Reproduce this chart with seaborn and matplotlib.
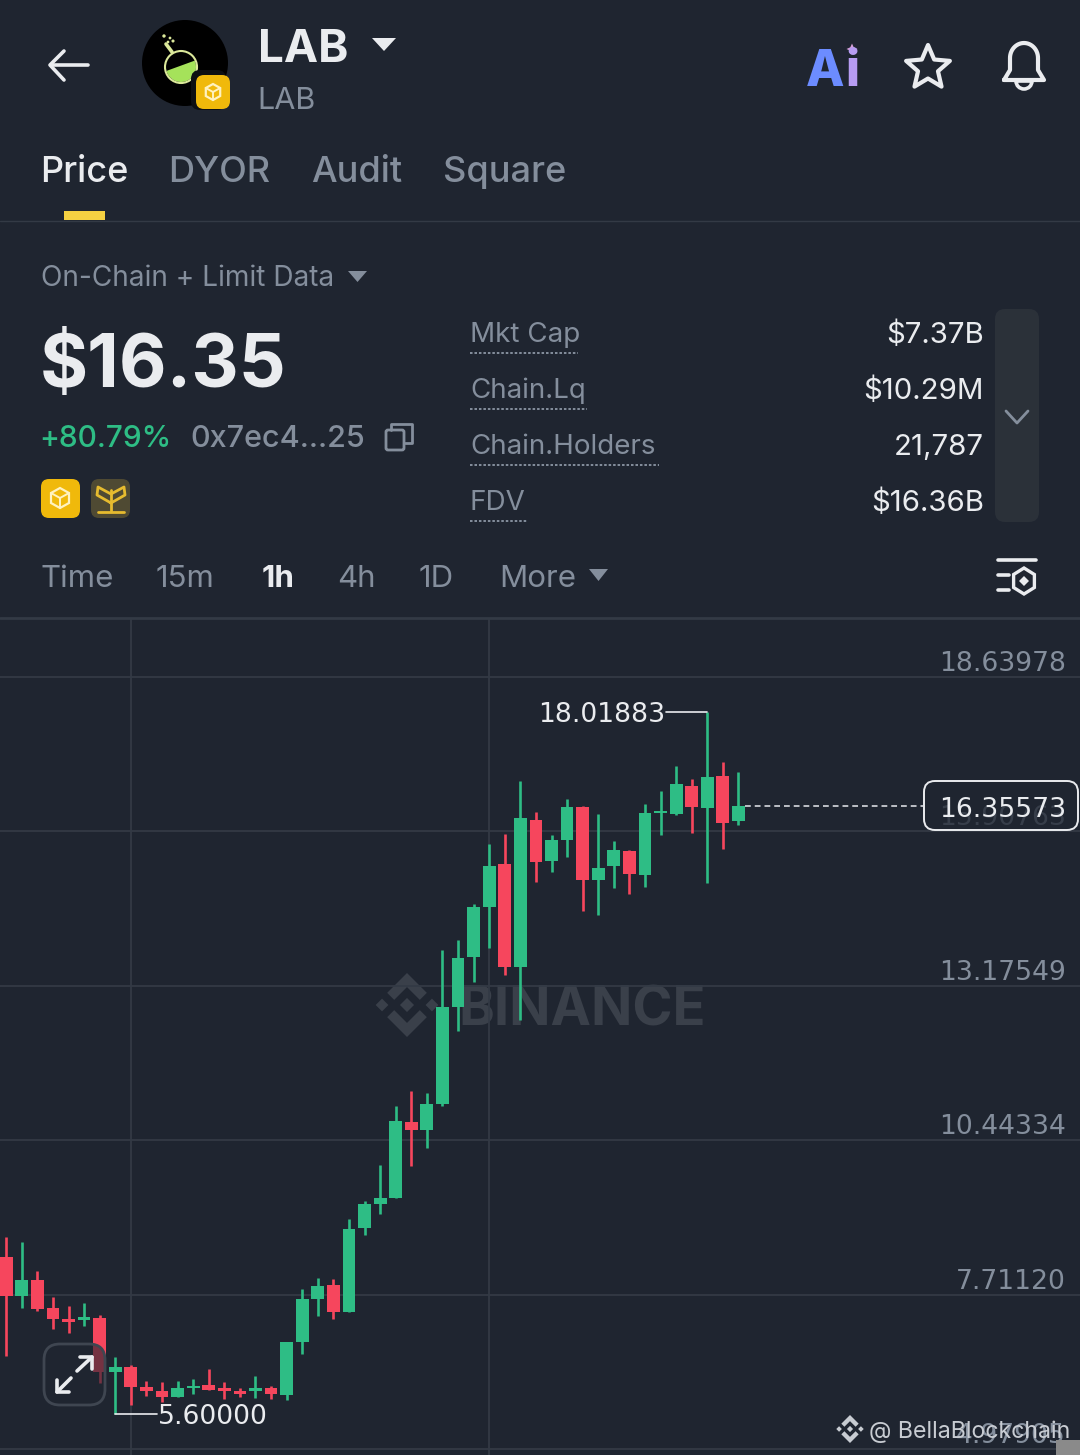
import numpy as np
import pandas as pd
import matplotlib
matplotlib.use('Agg')
import matplotlib.pyplot as plt
from matplotlib.patches import FancyBboxPatch, Circle, Polygon, Wedge, Rectangle
from matplotlib.transforms import ScaledTranslation
import seaborn as sns

# candles, oldest first
opens = [8.37, 7.68, 7.97, 7.47, 7.28, 7.26, 7.29, 6.34, 6.43, 6.07, 6.00, 5.90,
         6.06, 6.11, 6.06, 6.00, 6.00, 6.06, 5.93, 6.87, 7.63, 7.88, 7.40, 8.89,
         9.31, 9.42, 10.76, 10.62, 11.08, 12.80, 13.68, 14.57, 15.33, 13.51, 16.11, 15.38,
         15.76, 16.34, 15.05, 15.29, 15.56, 15.14, 16.23, 16.22, 16.71, 16.32, 16.89, 16.09]
highs = [8.73, 8.64, 8.13, 7.67, 7.51, 7.56, 7.35, 6.60, 6.46, 6.18, 6.16, 6.18,
         6.22, 6.39, 6.16, 6.06, 6.27, 6.09, 6.87, 7.81, 8.00, 7.99, 9.05, 9.37,
         10.00, 11.05, 11.31, 11.28, 13.81, 13.99, 14.62, 15.68, 15.86, 16.80, 16.25, 15.84,
         16.48, 16.36, 16.22, 15.74, 15.58, 16.39, 16.62, 17.06, 16.83, 18.01883, 17.14, 16.96]
lows = [6.62, 7.47, 7.42, 7.10, 7.03, 7.15, 6.14, 5.60, 5.75, 5.91, 5.81, 5.90,
        5.95, 6.02, 5.86, 5.90, 5.88, 5.86, 5.84, 6.66, 7.33, 7.28, 7.40, 8.76,
        9.14, 9.42, 9.99, 10.30, 11.05, 12.37, 13.24, 13.84, 13.37, 12.57, 15.01, 15.19,
        15.45, 14.50, 14.43, 14.91, 14.80, 14.92, 15.84, 16.20, 15.88, 14.99, 15.60, 16.02]
closes = [7.68, 7.97, 7.45, 7.28, 7.22, 7.31, 6.34, 6.43, 6.07, 6.00, 5.90, 6.06,
          6.09, 6.02, 6.00, 5.95, 6.06, 5.95, 6.87, 7.63, 7.86, 7.40, 8.87, 9.31,
          9.42, 10.78, 10.62, 11.08, 12.80, 13.67, 14.57, 15.29, 13.51, 16.14, 15.37, 15.76,
          16.34, 15.05, 15.26, 15.58, 15.15, 16.23, 16.27, 16.75, 16.34, 16.87, 16.06, 16.35573]

axis_ticks = [18.63978, 15.90763, 13.17549, 10.44334, 7.71120, 4.97905]
last_price = 16.35573
high_label = '18.01883'
low_label = '5.60000'

stats_names = ['Mkt Cap', 'Chain.Lq', 'Chain.Holders', 'FDV']
stats_values = ['$7.37B', '$10.29M', '21,787', '$16.36B']
timeframes = ['Time', '15m', '1h', '4h', '1D', 'More']
tabs = ['Price', 'DYOR', 'Audit', 'Square']

BG = '#1f2530'
GREEN = '#2ebd85'
RED = '#f6465d'
GRAY = '#848e9c'
WHITE = '#eaecef'
GRID = '#333a45'
YELLOW = '#f0b90b'
NUM = ['DejaVu Sans']
MID = 'center_baseline'

sns.set_theme(style='dark', rc={'figure.facecolor': BG, 'axes.facecolor': BG})
plt.rcParams['font.family'] = ['Inter', 'DejaVu Sans']

df = pd.DataFrame({'i': range(len(opens)), 'open': opens, 'high': highs, 'low': lows, 'close': closes})
df['bottom'] = df[['open', 'close']].min(axis=1)
df['body'] = (df['open'] - df['close']).abs().clip(lower=0.04)
df['up'] = df['close'] >= df['open']

fig = plt.figure(figsize=(10.8, 14.55), dpi=100)

# pixel layers for the app screen, one behind and one over the chart
back = fig.add_axes([0, 0, 1, 1], zorder=0)
front = fig.add_axes([0, 0, 1, 1], zorder=2)
for a in (back, front):
    a.set_xlim(0, 1080)
    a.set_ylim(1455, 0)
    a.axis('off')

# chart
ax = fig.add_axes([0, 0, 1, 837 / 1455], zorder=1)
ax.patch.set_visible(False)

ax.vlines(df['i'][df['up']], df['low'][df['up']], df['high'][df['up']], color=GREEN, lw=1.9, zorder=3)
ax.vlines(df['i'][~df['up']], df['low'][~df['up']], df['high'][~df['up']], color=RED, lw=1.9, zorder=3)
for flag, col in ((True, GREEN), (False, RED)):
    sub = df[df['up'] == flag]
    sns.barplot(data=sub, x='i', y='body', bottom=sub['bottom'].to_numpy(), native_scale=True,
                color=col, saturation=1, width=0.82, linewidth=0, errorbar=None, ax=ax, zorder=4)

ax.set_xlim(-6.2 / 15.58, (1080 - 6.2) / 15.58)
ax.set_ylim(18.63978 - (1455 - 677) / 56.51, 18.63978 + 59 / 56.51)
ax.set_xlabel('')
ax.set_ylabel('')
ax.set_xticks([8, 31])
ax.set_xticklabels([])
ax.set_yticks(axis_ticks)
ax.set_yticklabels(['%.5f' % v for v in axis_ticks], color=GRAY, fontsize=19.2, family=NUM)
ax.yaxis.tick_right()
ax.tick_params(axis='y', length=0, pad=-10)
ax.tick_params(axis='x', length=0)
ax.grid(True, color=GRID, lw=1.3)
ax.set_axisbelow(True)
for s in ax.spines.values():
    s.set_visible(False)
for lab in ax.get_yticklabels():
    lab.set_ha('right')
    lab.set_va('baseline')
    lab.set_transform(lab.get_transform() + ScaledTranslation(0, 0.06, fig.dpi_scale_trans))

# last price line and high / low callouts
ax.plot([47.42, 58.85], [last_price, last_price], color='#c9ccd1', lw=1.3, dashes=(3.2, 2.2), zorder=3)
ax.plot([42.35, 45], [highs[45], highs[45]], color=WHITE, lw=1.2, zorder=5)
ax.plot([7, 9.68], [lows[7], lows[7]], color=WHITE, lw=1.2, zorder=5)
ax.annotate(high_label, xy=(42.3, highs[45]), ha='right', va=MID, color=WHITE, fontsize=19.2, family=NUM, zorder=5)
ax.annotate(low_label, xy=(9.72, lows[7]), ha='left', va=MID, color=WHITE, fontsize=19.2, family=NUM, zorder=5)


def rbox(a, x0, y0, x1, y1, r, **kw):
    p = FancyBboxPatch((x0 + r, y0 + r), x1 - x0 - 2 * r, y1 - y0 - 2 * r,
                       boxstyle='round,pad=%g,rounding_size=%g' % (r, r), **kw)
    a.add_patch(p)
    return p


def tri(a, x0, x1, y0, y1, color):
    a.add_patch(Polygon([(x0, y0), (x1, y0), ((x0 + x1) / 2, y1)], closed=True, color=color, lw=0, joinstyle='round'))


def diamond_logo(a, cx, cy, s, color, zorder=2):
    # the four-way diamond mark
    def d(x, y, r):
        a.add_patch(Polygon([(cx + x, cy + y - r), (cx + x + r, cy + y), (cx + x, cy + y + r), (cx + x - r, cy + y)],
                            closed=True, color=color, lw=0, zorder=zorder))
    d(0, 0, 0.22 * s)
    d(-0.78 * s, 0, 0.2 * s)
    d(0.78 * s, 0, 0.2 * s)
    for sign in (-1, 1):
        a.add_patch(Polygon([(cx, cy + sign * s), (cx + 0.62 * s, cy + sign * 0.38 * s), (cx + 0.4 * s, cy + sign * 0.16 * s),
                             (cx, cy + sign * 0.56 * s), (cx - 0.4 * s, cy + sign * 0.16 * s), (cx - 0.62 * s, cy + sign * 0.38 * s)],
                            closed=True, color=color, lw=0, zorder=zorder))


def cube(a, cx, cy, s, color):
    pts = [(cx, cy - s), (cx + s * 0.9, cy - s * 0.5), (cx + s * 0.9, cy + s * 0.5), (cx, cy + s), (cx - s * 0.9, cy + s * 0.5), (cx - s * 0.9, cy - s * 0.5)]
    a.add_patch(Polygon(pts, closed=True, fill=False, ec=color, lw=1.6))
    a.plot([cx - s * 0.9, cx, cx + s * 0.9], [cy - s * 0.5, cy, cy - s * 0.5], color=color, lw=1.4)
    a.plot([cx, cx], [cy, cy + s], color=color, lw=1.4)


# chart frame and watermarks
back.plot([0, 1080], [618, 618], color=GRID, lw=2)
back.plot([0, 1080], [220.5, 220.5], color=GRID, lw=1)
diamond_logo(back, 407, 1005, 32, '#3a404a')
back.text(458, 1005, 'BINANCE', color='#3a404a', fontsize=39, fontweight='bold', va=MID, ha='left')

# header
front.plot([51, 88], [65, 65], color=WHITE, lw=2.6, solid_capstyle='round')
front.plot([64, 50, 64], [51, 65, 80], color=WHITE, lw=2.6, solid_capstyle='round', solid_joinstyle='round')
front.add_patch(Circle((185, 63), 43, color='#000000', lw=0))
liquid = np.deg2rad(np.linspace(-25, 165, 30))
front.add_patch(Polygon(np.c_[181 + 15 * np.cos(liquid), 67 + 15 * np.sin(liquid)], closed=True, color='#a5e25a', lw=0))
front.add_patch(Circle((181, 67), 16, fill=False, ec='#dbe89a', lw=1.5))
front.plot([172, 166], [52, 44], color='#dbe89a', lw=2.6)
front.scatter([164, 170, 173, 168], [36, 38, 41, 42], s=[6, 4, 5, 4], color='#dbe89a', lw=0)
rbox(front, 191, 70, 226, 110, 9, color='#0d0f12', lw=0)
rbox(front, 196, 75, 230, 109, 8, color=YELLOW, lw=0)
cube(front, 213, 92, 8, '#fff2c0')

front.text(258, 46, 'LAB', color=WHITE, fontsize=33, fontweight='bold', va=MID)
tri(front, 372, 396, 38, 51, WHITE)
front.text(257, 98, 'LAB', color=GRAY, fontsize=22, va=MID)

front.text(806, 68, 'A', color='#6c8cff', fontsize=36, fontweight='heavy', va=MID)
front.text(845, 68, 'i', color='#b79cf2', fontsize=36, fontweight='heavy', va=MID)
front.add_patch(Polygon([(852, 41), (854.5, 46.5), (860, 49), (854.5, 51.5), (852, 57), (849.5, 51.5), (844, 49), (849.5, 46.5)],
                        closed=True, color='#d8a0d8', lw=1.5, ec=BG))

angles = np.deg2rad(np.arange(-90, 270, 36))
radii = np.where(np.arange(10) % 2 == 0, 23, 10.5)
front.add_patch(Polygon(np.c_[928 + radii * np.cos(angles), 68 + radii * np.sin(angles)], closed=True, fill=False, ec=WHITE, lw=3, joinstyle='round'))

bell_t = np.linspace(np.pi, 2 * np.pi, 30)
bell_x = np.r_[1004, 1010, 1010 + 14 * (1 + np.cos(bell_t)), 1038, 1044, 1004]
bell_y = np.r_[80, 70, 58 + 15 * np.sin(bell_t), 70, 80, 80]
front.plot(bell_x, bell_y, color=WHITE, lw=3, solid_joinstyle='round')
front.add_patch(Wedge((1024, 81), 8, 0, 180, fill=False, ec=WHITE, lw=2.6))

# tabs
for x, name in zip([40, 168, 311, 443], tabs):
    front.text(x, 169, name, color=WHITE if name == 'Price' else GRAY, fontsize=26, va=MID, fontweight='medium')
front.add_patch(Rectangle((64, 211), 41, 9, color='#f5d142', lw=0))

front.text(41, 276, 'On-Chain + Limit Data', color=GRAY, fontsize=20.2, va=MID)
tri(front, 348, 367, 271, 282, GRAY)
front.text(40, 360, '$16.35', color=WHITE, fontsize=53, fontweight='bold', va=MID)
front.text(39, 436, '+80.79%', color=GREEN, fontsize=21.5, fontweight='medium', va=MID)
front.text(190, 436, '0x7ec4...25', color=GRAY, fontsize=22, fontweight='medium', va=MID)
rbox(front, 386, 430, 404, 450, 2, fill=False, ec=GRAY, lw=2)
front.plot([391, 391, 412, 412, 405], [430, 424, 424, 443, 443], color=GRAY, lw=2)

rbox(front, 41, 479, 80, 518, 8, color=YELLOW, lw=0)
cube(front, 60, 498, 10, '#fff2c0')
rbox(front, 91, 479, 130, 518, 8, color='#4f4a33', lw=0)
front.plot([111, 111], [490, 511], color='#e6bb2f', lw=2)
front.plot([98, 124], [511.5, 511.5], color='#e6bb2f', lw=2)
front.plot([111, 97, 98, 111, 124, 125, 111], [503, 495, 487, 494, 487, 495, 503], color='#e6bb2f', lw=2)

# stats block
for y, name, val, end in zip([332, 388, 444, 500], stats_names, stats_values, [578, 587, 659, 527]):
    front.text(470, y, name, color=GRAY, fontsize=20, va=MID)
    front.plot([470, end], [y + 20.5, y + 20.5], color=GRAY, lw=1.4, dashes=(1.3, 1.0))
    front.text(984, y, val, color=WHITE, fontsize=21.2, va=MID, ha='right')
rbox(front, 995, 309, 1039, 522, 10, color='#2b3139', lw=0)
front.plot([1006, 1017, 1028], [411, 423, 411], color=GRAY, lw=2)

# timeframes
for x, name in zip([41, 156, 262, 337, 419, 499], timeframes):
    active = name == '1h'
    front.text(x, 576, name, color=WHITE if active else GRAY, fontsize=22.5, va=MID, fontweight='bold' if active else 'normal')
tri(front, 589, 608, 569, 581, GRAY)

# chart settings icon
front.plot([998, 1036], [560, 560], color=WHITE, lw=2.6)
front.plot([998, 1009], [575, 575], color=WHITE, lw=2.6)
front.plot([998, 1009], [590, 590], color=WHITE, lw=2.6)
hex_a = np.deg2rad(np.arange(-90, 270, 60))
front.add_patch(Polygon(np.c_[1024 + 12 * np.cos(hex_a), 581 + 13 * np.sin(hex_a)], closed=True, fill=False, ec=WHITE, lw=2.4))
front.add_patch(Polygon([(1024, 576), (1029, 581), (1024, 586), (1019, 581)], closed=True, color=WHITE, lw=0))

# boxed last price over the axis label
rbox(front, 924, 781, 1078, 830, 11, fc=BG, alpha=0.76, lw=0)
rbox(front, 924, 781, 1078, 830, 11, fill=False, ec=WHITE, lw=1.4)
front.text(1066, 807, '%.5f' % last_price, color=WHITE, fontsize=19.2, family=NUM, ha='right', va=MID)

# expand button
rbox(front, 44, 1344, 105, 1405, 16, fc=BG, alpha=0.6, lw=0)
rbox(front, 44, 1344, 105, 1405, 16, fill=False, ec='#3f4651', lw=2)
front.plot([77, 92], [1371, 1357], color=WHITE, lw=2.6)
front.plot([80, 92, 92], [1357, 1357, 1369], color=WHITE, lw=2.6)
front.plot([57, 71], [1392, 1378], color=WHITE, lw=2.6)
front.plot([57, 57, 69], [1380, 1392, 1392], color=WHITE, lw=2.6)

# reposted-by watermark
diamond_logo(front, 850, 1429, 14, '#c8ccd2')
front.text(869, 1429, '@ BellaBlockchain', color='#c8ccd2', fontsize=16.7, va=MID)
front.add_patch(Rectangle((1056, 1440), 24, 15, color='#8a8a8a', lw=0))

fig.savefig('out.png', dpi=100, facecolor=BG)
